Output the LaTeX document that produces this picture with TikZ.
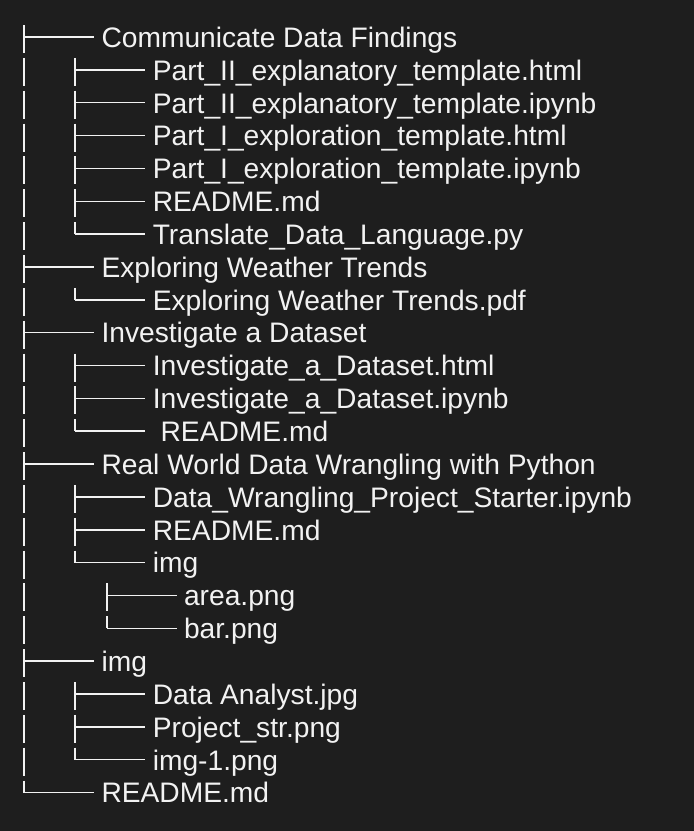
\documentclass[tikz,border=0pt]{standalone}
\usepackage{fontspec}
\setmainfont{Liberation Sans}
\usetikzlibrary{calc}
\definecolor{bg}{RGB}{30,30,30}
\definecolor{fg}{RGB}{242,242,242}

\begin{document}
\begin{tikzpicture}[x=1pt,y=-1pt,
  item/.style={anchor=base west, inner sep=0pt, outer sep=0pt, text=fg,
               font=\fontsize{28.2}{34}\selectfont},
  stem/.style={draw=fg, line width=1.5pt, dash pattern=on 28pt off 4.85pt},
  twig/.style={draw=fg, line width=1.5pt}]
\fill[bg] (0,0) rectangle (694,831);
\useasboundingbox (0,0) rectangle (694,831);

% one entry per row: row number / depth / name
\foreach \i/\lv/\txt in {
  1/1/Communicate Data Findings,
  2/2/Part\_II\_explanatory\_template.html,
  3/2/Part\_II\_explanatory\_template.ipynb,
  4/2/Part\_I\_exploration\_template.html,
  5/2/Part\_I\_exploration\_template.ipynb,
  6/2/README.md,
  7/2/Translate\_Data\_Language.py,
  8/1/Exploring Weather Trends,
  9/2/Exploring Weather Trends.pdf,
  10/1/Investigate a Dataset,
  11/2/Investigate\_a\_Dataset.html,
  12/2/Investigate\_a\_Dataset.ipynb,
  13/2/\ README.md,
  14/1/Real World Data Wrangling with Python,
  15/2/Data\_Wrangling\_Project\_Starter.ipynb,
  16/2/README.md,
  17/2/img,
  18/3/area.png,
  19/3/bar.png,
  20/1/img,
  21/2/Data Analyst.jpg,
  22/2/Project\_str.png,
  23/2/img-1.png,
  24/1/README.md}
{
  \pgfmathsetmacro{\tx}{\lv==1 ? 101.5 : (\lv==2 ? 152.8 : 184)}
  \pgfmathsetmacro{\cx}{\lv==1 ? 24 : (\lv==2 ? 75 : 107)}
  \pgfmathsetmacro{\by}{47.3+(\i-1)*32.85}
  \node[item] (r\i) at (\tx,\by) {\txt};
  \coordinate (j\i) at (\cx,\by-10.3);
  \draw[twig] (j\i) -- ($(r\i.base west)+(-7.5,-10.3)$);
}

% vertical stems, one per folder
\foreach \a/\b in {1/24, 2/7, 9/9, 11/13, 15/17, 18/19, 21/23}
  \draw[stem] ($(j\a)+(0,-12)$) -- (j\b);
\end{tikzpicture}
\end{document}
